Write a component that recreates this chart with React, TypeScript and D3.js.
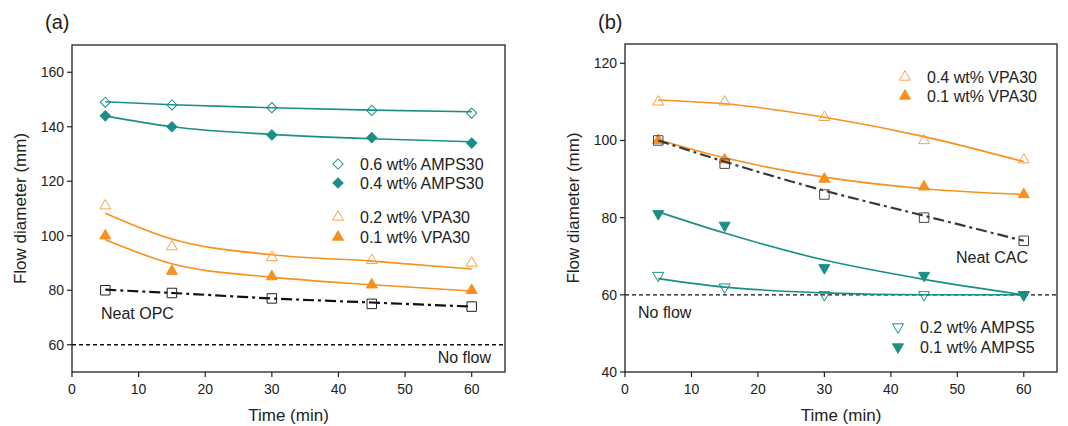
import React from 'react';
import * as d3 from 'd3';

// sampling times (min)
const times = [5, 15, 30, 45, 60];

// panel (a) measured values
const aAmps06 = [149, 148, 147, 146, 145];
const aAmps04 = [144, 140, 137, 136, 134];
const aVpa02 = [111, 96, 92, 91, 90];
const aVpa01 = [100, 87, 85, 82, 80];
const aOpc = [80, 79, 77, 75, 74];

// panel (a) fitted curves read at the same times
const aAmps06Fit = [149.2, 148.1, 147, 146.1, 145.5];
const aAmps04Fit = [144, 140, 137.2, 135.6, 134.5];
const aVpa02Fit = [108.3, 98.8, 93, 90.7, 87.8];
const aVpa01Fit = [98.5, 89.7, 84.8, 82, 79.7];
const aOpcFit = [80.2, 79, 77, 75.5, 74];

// panel (b) measured values
const bVpa04 = [110, 110, 106, 100, 95];
const bVpa01 = [100, 95, 90, 88, 86];
const bCac = [100, 94, 86, 80, 74];
const bAmps01 = [81, 78, 67, 65, 60];
const bAmps02 = [65, 62, 60, 60, 60];

// panel (b) fitted curves
const bVpa04Fit = [110.5, 109.5, 106, 101, 94.5];
const bVpa01Fit = [100.2, 95.5, 90.5, 87.5, 86];
const bCacFit = [100, 94.5, 87, 80.5, 74];
const bAmps01Fit = [81.5, 76, 69, 64, 60];
const bAmps02Fit = [64.2, 62, 60.5, 60, 60];

const aTicksY = [60, 80, 100, 120, 140, 160];
const bTicksY = [40, 60, 80, 100, 120];
const ticksX = [0, 10, 20, 30, 40, 50, 60];

const TEAL = '#1a8f88';
const ORANGE = '#f7901e';
const ORANGE_LIGHT = '#f7a444';
const FONT = 'Liberation Sans, Arial, sans-serif';

type Marker = 'diamondOpen' | 'diamondFill' | 'triUpOpen' | 'triUpFill' | 'triDownOpen' | 'triDownFill' | 'square';

interface Series {
  name: string;
  values: number[];
  fit: number[];
  marker: Marker;
  color: string;
  lineColor: string;
  dash?: string;
}

function markerPath(m: Marker) {
  if (m.startsWith('diamond')) return d3.symbol(d3.symbolSquare, 52)()!;
  if (m.startsWith('tri')) return d3.symbol(d3.symbolTriangle, 52)()!;
  return d3.symbol(d3.symbolSquare, 90)()!;
}

function Mark({ m, x, y, color }: { m: Marker; x: number; y: number; color: string }) {
  const filled = m.endsWith('Fill');
  let rot = 0;
  if (m.startsWith('diamond')) rot = 45;
  if (m.startsWith('triDown')) rot = 180;
  return (
    <path
      d={markerPath(m)}
      transform={`translate(${x},${y}) rotate(${rot})`}
      fill={filled ? color : 'none'}
      stroke={color}
      strokeWidth={1}
    />
  );
}

interface PanelProps {
  left: number; top: number; right: number; bottom: number;
  yDomain: [number, number];
  yTicks: number[];
  series: Series[];
  label: string;
}

function Panel({ left, top, right, bottom, yDomain, yTicks, series, label }: PanelProps) {
  const x = d3.scaleLinear().domain([0, 65]).range([left, right]);
  const y = d3.scaleLinear().domain(yDomain).range([bottom, top]);
  const line = d3.line<[number, number]>()
    .x(d => x(d[0]))
    .y(d => y(d[1]))
    .curve(d3.curveMonotoneX);

  return (
    <g fontFamily={FONT}>
      <text x={left - 27} y={29} fontSize={20} fill="#222">{label}</text>
      {/* no flow line */}
      <line x1={left} x2={right} y1={y(60)} y2={y(60)} stroke="#111" strokeWidth={1.3} strokeDasharray="4,3" />
      {series.map(s => (
        <g key={s.name}>
          <path
            d={line(times.map((t, i) => [t, s.fit[i]] as [number, number])) || ''}
            fill="none"
            stroke={s.lineColor}
            strokeWidth={s.dash ? 2.2 : 1.6}
            strokeDasharray={s.dash}
          />
          {s.values.map((v, i) => (
            <Mark key={i} m={s.marker} x={x(times[i])} y={y(v)} color={s.color} />
          ))}
        </g>
      ))}
      {/* frame */}
      <rect x={left} y={top} width={right - left} height={bottom - top} fill="none" stroke="#222" strokeWidth={1.3} />
      {yTicks.map(t => (
        <g key={t}>
          <line x1={left - 5} x2={left} y1={y(t)} y2={y(t)} stroke="#222" strokeWidth={1.2} />
          <text x={left - 8} y={y(t)} dy="0.35em" textAnchor="end" fontSize={14} fill="#222">{t}</text>
        </g>
      ))}
      {ticksX.map(t => (
        <g key={t}>
          <line x1={x(t)} x2={x(t)} y1={bottom} y2={bottom + 5} stroke="#222" strokeWidth={1.2} />
          <text x={x(t)} y={bottom + 22} textAnchor="middle" fontSize={14} fill="#222">{t}</text>
        </g>
      ))}
      <text x={(left + right) / 2} y={bottom + 49} textAnchor="middle" fontSize={17} fill="#222">Time (min)</text>
      <text
        transform={`translate(${left - 46},${(top + bottom) / 2}) rotate(-90)`}
        textAnchor="middle"
        fontSize={17}
        fill="#222"
      >Flow diameter (mm)</text>
    </g>
  );
}

function Legend({ x, y, items }: { x: number; y: number[]; items: { m: Marker; color: string; text: string }[] }) {
  return (
    <g fontFamily={FONT}>
      {items.map((it, i) => (
        <g key={it.text}>
          <Mark m={it.m} x={x} y={y[i]} color={it.color} />
          <text x={x + 22} y={y[i]} dy="0.35em" fontSize={16} fill="#222">{it.text}</text>
        </g>
      ))}
    </g>
  );
}

export default function App() {
  const seriesA: Series[] = [
    { name: 'a06', values: aAmps06, fit: aAmps06Fit, marker: 'diamondOpen', color: TEAL, lineColor: TEAL },
    { name: 'a04', values: aAmps04, fit: aAmps04Fit, marker: 'diamondFill', color: TEAL, lineColor: TEAL },
    { name: 'v02', values: aVpa02, fit: aVpa02Fit, marker: 'triUpOpen', color: ORANGE_LIGHT, lineColor: ORANGE },
    { name: 'v01', values: aVpa01, fit: aVpa01Fit, marker: 'triUpFill', color: ORANGE, lineColor: ORANGE },
    { name: 'opc', values: aOpc, fit: aOpcFit, marker: 'square', color: '#222', lineColor: '#111', dash: '11,4,3,4' },
  ];
  const seriesB: Series[] = [
    { name: 'v04', values: bVpa04, fit: bVpa04Fit, marker: 'triUpOpen', color: ORANGE_LIGHT, lineColor: ORANGE },
    { name: 'v01', values: bVpa01, fit: bVpa01Fit, marker: 'triUpFill', color: ORANGE, lineColor: ORANGE },
    { name: 'cac', values: bCac, fit: bCacFit, marker: 'square', color: '#444', lineColor: '#3a3a3a', dash: '11,4,3,4' },
    { name: 'am01', values: bAmps01, fit: bAmps01Fit, marker: 'triDownFill', color: TEAL, lineColor: TEAL },
    { name: 'am02', values: bAmps02, fit: bAmps02Fit, marker: 'triDownOpen', color: TEAL, lineColor: TEAL },
  ];

  return (
    <svg width={1068} height={426} style={{ position: 'absolute', left: 0, top: 0, background: '#fff' }}>
      <Panel left={72} top={45} right={505} bottom={372} yDomain={[50, 170]} yTicks={aTicksY} series={seriesA} label="(a)" />
      <Panel left={625} top={44} right={1057} bottom={372} yDomain={[40, 125]} yTicks={bTicksY} series={seriesB} label="(b)" />

      <Legend x={338} y={[164, 183]} items={[
        { m: 'diamondOpen', color: TEAL, text: '0.6 wt% AMPS30' },
        { m: 'diamondFill', color: TEAL, text: '0.4 wt% AMPS30' },
      ]} />
      <Legend x={338} y={[217, 237]} items={[
        { m: 'triUpOpen', color: ORANGE_LIGHT, text: '0.2 wt% VPA30' },
        { m: 'triUpFill', color: ORANGE, text: '0.1 wt% VPA30' },
      ]} />
      <Legend x={905} y={[77, 96]} items={[
        { m: 'triUpOpen', color: ORANGE_LIGHT, text: '0.4 wt% VPA30' },
        { m: 'triUpFill', color: ORANGE, text: '0.1 wt% VPA30' },
      ]} />
      <Legend x={898} y={[327, 347]} items={[
        { m: 'triDownOpen', color: TEAL, text: '0.2 wt% AMPS5' },
        { m: 'triDownFill', color: TEAL, text: '0.1 wt% AMPS5' },
      ]} />

      <g fontFamily={FONT} fontSize={16} fill="#222">
        <text x={101} y={319}>Neat OPC</text>
        <text x={491} y={363} textAnchor="end">No flow</text>
        <text x={1028} y={263} textAnchor="end">Neat CAC</text>
        <text x={638} y={318}>No flow</text>
      </g>
    </svg>
  );
}
